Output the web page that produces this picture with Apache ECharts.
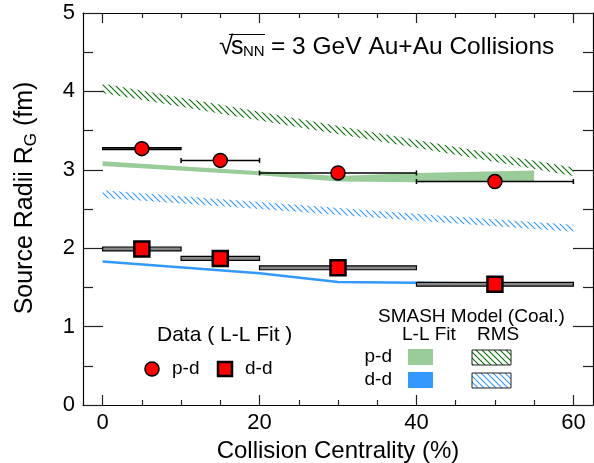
<!DOCTYPE html>
<html>
<head>
<meta charset="utf-8">
<script src="https://cdn.jsdelivr.net/npm/echarts@6/dist/echarts.min.js"></script>
<style>
  html, body { margin: 0; padding: 0; background: #fff; }
  #chart { width: 594px; height: 463px; }
</style>
</head>
<body>
<div id="chart"></div>
<script>
// measured data points (centrality bin centre, radius) and bin widths
var pdX = [5, 15, 30, 50];
var pdR = [3.27, 3.12, 2.96, 2.85];
var pdLo = [0, 10, 20, 40];
var pdHi = [10, 20, 40, 60];
var pdSys = [0.012, 0, 0, 0];

var ddX = [5, 15, 30, 50];
var ddR = [1.99, 1.87, 1.75, 1.54];
var ddLo = [0, 10, 20, 40];
var ddHi = [10, 20, 40, 60];
var ddSys = [0.025, 0.025, 0.025, 0.025];

// SMASH model, L-L fit bands
var smashPdX = [0, 20, 30, 40, 55];
var smashPdLow = [3.05, 2.93, 2.85, 2.84, 2.85];
var smashPdHigh = [3.11, 2.98, 2.92, 2.96, 2.99];

var smashDdX = [0, 20, 30, 40, 55];
var smashDdR = [1.83, 1.68, 1.57, 1.56, 1.54];

// SMASH model, RMS bands
var rmsX = [0, 20, 40, 60];
var rmsPdLow = [3.98, 3.63, 3.28, 2.92];
var rmsPdHigh = [4.10, 3.74, 3.38, 3.03];
var rmsDdLow = [2.64, 2.50, 2.35, 2.21];
var rmsDdHigh = [2.74, 2.59, 2.44, 2.30];

var xMajor = [0, 20, 40, 60];
var xMinor = [5, 10, 15, 25, 30, 35, 45, 50, 55];

var FONT = 'Liberation Sans';
var GREEN = '#99cc99';
var BLUE = '#3399ff';
var HATCH_GREEN = '#0a6e0a';

function hatch(color) {
  var c = document.createElement('canvas');
  c.width = 6; c.height = 6;
  var g = c.getContext('2d');
  g.strokeStyle = color;
  g.lineWidth = 1.1;
  g.beginPath();
  g.moveTo(-1, -1); g.lineTo(7, 7);
  g.moveTo(-1, 5); g.lineTo(1, 7);
  g.moveTo(5, -1); g.lineTo(7, 1);
  g.stroke();
  return { image: c, repeat: 'repeat' };
}

function bandSeries(xs, lo, hi, fill, z) {
  return {
    type: 'custom',
    z: z,
    silent: true,
    data: [[xs[0], lo[0]]],
    renderItem: function (params, api) {
      var pts = [];
      for (var i = 0; i < xs.length; i++) pts.push(api.coord([xs[i], hi[i]]));
      for (var j = xs.length - 1; j >= 0; j--) pts.push(api.coord([xs[j], lo[j]]));
      return { type: 'polygon', shape: { points: pts }, style: { fill: fill } };
    }
  };
}

function errSeries(xs, ys, lo, hi, sys, fill, z) {
  var rows = xs.map(function (x, i) { return [x, ys[i], lo[i], hi[i], sys[i]]; });
  return {
    type: 'custom',
    z: z,
    silent: true,
    data: rows,
    renderItem: function (params, api) {
      var y = api.value(1), a = api.value(2), b = api.value(3), s = api.value(4);
      if (s > 0) {
        var p1 = api.coord([a, y + s]);
        var p2 = api.coord([b, y - s]);
        return {
          type: 'rect',
          shape: { x: p1[0], y: p1[1], width: p2[0] - p1[0], height: p2[1] - p1[1] },
          style: { fill: fill, stroke: '#000', lineWidth: 1.2 }
        };
      }
      var l = api.coord([a, y]);
      var r = api.coord([b, y]);
      return {
        type: 'group',
        children: [
          { type: 'line', shape: { x1: l[0], y1: l[1], x2: r[0], y2: r[1] }, style: { stroke: '#000', lineWidth: 1.5 } },
          { type: 'line', shape: { x1: l[0], y1: l[1] - 2.5, x2: l[0], y2: l[1] + 2.5 }, style: { stroke: '#000', lineWidth: 1.5 } },
          { type: 'line', shape: { x1: r[0], y1: r[1] - 2.5, x2: r[0], y2: r[1] + 2.5 }, style: { stroke: '#000', lineWidth: 1.5 } }
        ]
      };
    }
  };
}

function pairs(xs, ys) {
  return xs.map(function (x, i) { return [x, ys[i]]; });
}

var chart = echarts.init(document.getElementById('chart'));

var xBase = { type: 'value', min: -2.5, max: 62.5, gridIndex: 0, splitLine: { show: false } };
var axisLineStyle = { color: '#000', width: 1.2 };
var tickStyle = { color: '#222', width: 1.2 };

var option = {
  animation: false,
  backgroundColor: '#fff',
  textStyle: { fontFamily: FONT },
  grid: { left: 83, right: 1, top: 13, bottom: 58, outerBoundsMode: 'none', containLabel: false },
  xAxis: [
    Object.assign({}, xBase, {
      position: 'bottom',
      axisLine: { show: true, onZero: false, lineStyle: axisLineStyle },
      axisTick: { show: true, inside: true, length: 10, customValues: xMajor, lineStyle: tickStyle },
      axisLabel: { customValues: xMajor, color: '#000', fontSize: 22, fontFamily: FONT, margin: 7 },
      name: 'Collision Centrality (%)',
      nameLocation: 'middle',
      nameGap: 28,
      nameTextStyle: { color: '#000', fontSize: 24, fontFamily: FONT }
    }),
    Object.assign({}, xBase, {
      position: 'bottom',
      axisLine: { show: false, onZero: false },
      axisTick: { show: true, inside: true, length: 5, customValues: xMinor, lineStyle: tickStyle },
      axisLabel: { show: false }
    }),
    Object.assign({}, xBase, {
      position: 'top',
      axisLine: { show: true, onZero: false, lineStyle: axisLineStyle },
      axisTick: { show: true, inside: true, length: 10, customValues: xMajor, lineStyle: tickStyle },
      axisLabel: { show: false }
    }),
    Object.assign({}, xBase, {
      position: 'top',
      axisLine: { show: false, onZero: false },
      axisTick: { show: true, inside: true, length: 5, customValues: xMinor, lineStyle: tickStyle },
      axisLabel: { show: false }
    })
  ],
  yAxis: [
    {
      type: 'value', min: 0, max: 5, interval: 1, position: 'left',
      splitLine: { show: false },
      axisLine: { show: true, onZero: false, lineStyle: axisLineStyle },
      axisTick: { show: true, inside: true, length: 20, lineStyle: tickStyle },
      minorTick: { show: true, splitNumber: 2, length: 10, lineStyle: tickStyle },
      axisLabel: { color: '#000', fontSize: 22, fontFamily: FONT, margin: 8 }
    },
    {
      type: 'value', min: 0, max: 5, interval: 1, position: 'right',
      splitLine: { show: false },
      axisLine: { show: true, onZero: false, lineStyle: axisLineStyle },
      axisTick: { show: true, inside: true, length: 20, lineStyle: tickStyle },
      minorTick: { show: true, splitNumber: 2, length: 10, lineStyle: tickStyle },
      axisLabel: { show: false }
    }
  ],
  series: [
    bandSeries(rmsX, rmsPdLow, rmsPdHigh, hatch(HATCH_GREEN), 1),
    bandSeries(rmsX, rmsDdLow, rmsDdHigh, hatch(BLUE), 1),
    bandSeries(smashPdX, smashPdLow, smashPdHigh, GREEN, 2),
    {
      type: 'line', z: 2, silent: true, symbol: 'none',
      data: pairs(smashDdX, smashDdR),
      lineStyle: { color: BLUE, width: 2.5 }
    },
    errSeries(pdX, pdR, pdLo, pdHi, pdSys, '#333', 3),
    errSeries(ddX, ddR, ddLo, ddHi, ddSys, '#888', 3),
    {
      type: 'scatter', z: 4, silent: true,
      symbol: 'circle', symbolSize: 14,
      data: pairs(pdX, pdR),
      itemStyle: { color: '#ff0000', borderColor: '#000', borderWidth: 1.5, opacity: 1 }
    },
    {
      type: 'scatter', z: 4, silent: true,
      symbol: 'rect', symbolSize: 15,
      data: pairs(ddX, ddR),
      itemStyle: { color: '#ff0000', borderColor: '#000', borderWidth: 2.5, opacity: 1 }
    }
  ],
  graphic: [
    // y axis title
    {
      type: 'text', x: 25, y: 198, rotation: Math.PI / 2,
      style: {
        text: '{m|Source Radii R}{s|G}{m| (fm)}',
        align: 'center', verticalAlign: 'middle',
        rich: {
          m: { fontSize: 25, fontFamily: FONT, fill: '#000', lineHeight: 30 },
          s: { fontSize: 17, fontFamily: FONT, fill: '#000', verticalAlign: 'bottom', lineHeight: 17 }
        }
      }
    },
    // energy label
    { type: 'text', x: 219, y: 47, style: { text: '\u221a', fontSize: 26, fontFamily: FONT, fill: '#000', verticalAlign: 'middle' } },
    { type: 'line', shape: { x1: 229, y1: 34.5, x2: 265, y2: 34.5 }, style: { stroke: '#000', lineWidth: 1.2 } },
    { type: 'text', x: 231, y: 47, style: { text: 's', fontSize: 25, fontFamily: FONT, fill: '#000', verticalAlign: 'middle' } },
    { type: 'text', x: 243, y: 52, style: { text: 'NN', fontSize: 15, fontFamily: FONT, fill: '#000', verticalAlign: 'middle' } },
    { type: 'text', x: 271, y: 47, style: { text: '= 3 GeV Au+Au Collisions', fontSize: 24.5, fontFamily: FONT, fill: '#000', verticalAlign: 'middle' } },

    // data legend
    { type: 'text', x: 157, y: 335, style: { text: 'Data ( L-L Fit )', fontSize: 21, fontFamily: FONT, fill: '#000', verticalAlign: 'middle' } },
    { type: 'circle', shape: { cx: 152, cy: 369, r: 7 }, style: { fill: '#ff0000', stroke: '#000', lineWidth: 1.5 } },
    { type: 'text', x: 172, y: 369, style: { text: 'p-d', fontSize: 19, fontFamily: FONT, fill: '#000', verticalAlign: 'middle' } },
    { type: 'rect', shape: { x: 218, y: 362, width: 14, height: 14 }, style: { fill: '#ff0000', stroke: '#000', lineWidth: 2.5 } },
    { type: 'text', x: 245, y: 369, style: { text: 'd-d', fontSize: 19, fontFamily: FONT, fill: '#000', verticalAlign: 'middle' } },

    // model legend
    { type: 'text', x: 378, y: 317, style: { text: 'SMASH Model (Coal.)', fontSize: 19, fontFamily: FONT, fill: '#000', verticalAlign: 'middle' } },
    { type: 'text', x: 402, y: 335, style: { text: 'L-L Fit', fontSize: 19, fontFamily: FONT, fill: '#000', verticalAlign: 'middle' } },
    { type: 'text', x: 477, y: 335, style: { text: 'RMS', fontSize: 19, fontFamily: FONT, fill: '#000', verticalAlign: 'middle' } },
    { type: 'text', x: 392, y: 357, style: { text: 'p-d', fontSize: 19, fontFamily: FONT, fill: '#000', align: 'right', verticalAlign: 'middle' } },
    { type: 'text', x: 392, y: 380, style: { text: 'd-d', fontSize: 19, fontFamily: FONT, fill: '#000', align: 'right', verticalAlign: 'middle' } },
    { type: 'rect', shape: { x: 408, y: 349, width: 25, height: 16 }, style: { fill: GREEN } },
    { type: 'rect', shape: { x: 408, y: 372, width: 25, height: 16 }, style: { fill: BLUE } },
    { type: 'rect', shape: { x: 472, y: 350, width: 39, height: 15 }, style: { fill: hatch(HATCH_GREEN), stroke: '#222', lineWidth: 1 } },
    { type: 'rect', shape: { x: 472, y: 373, width: 39, height: 15 }, style: { fill: hatch(BLUE), stroke: '#222', lineWidth: 1 } }
  ]
};

chart.setOption(option);
</script>
</body>
</html>
